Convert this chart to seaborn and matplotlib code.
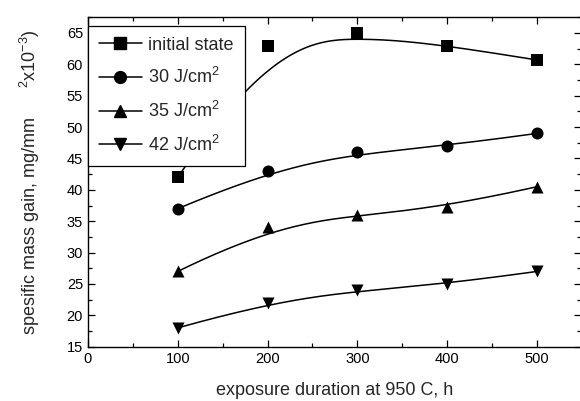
import numpy as np
import seaborn as sns
import matplotlib
matplotlib.use("Agg")
import matplotlib.pyplot as plt
from matplotlib.lines import Line2D
from matplotlib.ticker import MultipleLocator

# datos
duracion = [100, 200, 300, 400, 500]
inicial = [42, 63, 65, 63, 60.7]
j30 = [37, 43, 46, 47, 49]
j35 = [27, 34, 36, 37.3, 40.5]
j42 = [18, 22, 24, 25, 27]

etiquetas = ["initial state", "30 J/cm$^2$", "35 J/cm$^2$", "42 J/cm$^2$"]
marcadores = ["s", "o", "^", "v"]

sns.set_style("ticks")
plt.rcParams['font.family'] = ['Liberation Sans', 'DejaVu Sans']
plt.rcParams['mathtext.fontset'] = 'custom'
plt.rcParams['mathtext.rm'] = 'Liberation Sans'
plt.rcParams['mathtext.it'] = 'Liberation Sans'


# B-spline cubica "clamped" (como la linea B-Spline de Origin)
def bspline(xs, ys, n=200):
    p = np.column_stack([xs, ys]).astype(float)
    k = 3
    m = len(p)
    nodos = np.concatenate([np.zeros(k), np.linspace(0, 1, m - k + 1), np.ones(k)])
    u = np.linspace(0, 1 - 1e-9, n)

    def base(i, d, t):
        if d == 0:
            return np.where((nodos[i] <= t) & (t < nodos[i + 1]), 1.0, 0.0)
        a = 0.0
        b = 0.0
        if nodos[i + d] != nodos[i]:
            a = (t - nodos[i]) / (nodos[i + d] - nodos[i]) * base(i, d - 1, t)
        if nodos[i + d + 1] != nodos[i + 1]:
            b = (nodos[i + d + 1] - t) / (nodos[i + d + 1] - nodos[i + 1]) * base(i + 1, d - 1, t)
        return a + b

    curva = sum(base(i, k, u)[:, None] * p[i] for i in range(m))
    curva = np.vstack([curva, p[-1]])
    return curva[:, 0], curva[:, 1]


fig = plt.figure(figsize=(5.8, 4.01), dpi=100)
ax = fig.add_axes([0.1517, 0.1354, 0.85, 0.823])

handles = []
for serie, mk, lab in zip([inicial, j30, j35, j42], marcadores, etiquetas):
    cx, cy = bspline(duracion, serie)
    sns.lineplot(x=cx, y=cy, ax=ax, color="black", linewidth=1.1, sort=False)
    sns.scatterplot(x=duracion, y=serie, ax=ax, marker=mk, color="black",
                    s=75, edgecolor="black", linewidth=0, zorder=3)
    handles.append(Line2D([], [], color="black", marker=mk, markersize=8.5,
                          linewidth=1.1, label=lab))

ax.set_xlim(0, 549)
ax.set_ylim(15, 67.6)
ax.xaxis.set_major_locator(MultipleLocator(100))
ax.xaxis.set_minor_locator(MultipleLocator(50))
ax.yaxis.set_major_locator(MultipleLocator(5))
ax.yaxis.set_minor_locator(MultipleLocator(2.5))
ax.tick_params(which="both", direction="in", top=True, right=True,
               labelsize=10.5, width=0.9, colors="black")
ax.tick_params(which="major", length=5)
ax.tick_params(which="minor", length=3)
for s in ax.spines.values():
    s.set_linewidth(1.0)
    s.set_color("black")

ax.set_xlabel("exposure duration at 950 C, h", fontsize=13, labelpad=12)
ax.set_ylabel("spesific mass gain, mg/mm      $^2$x10$^{-3}$)", fontsize=13, labelpad=18)

leg = ax.legend(handles=handles, loc="upper left", bbox_to_anchor=(0, 0.972),
                borderaxespad=0, fontsize=13, frameon=True, fancybox=False,
                edgecolor="black", framealpha=1, handlelength=2.4,
                labelspacing=0.75, handletextpad=0.35, borderpad=0.6)
leg.get_frame().set_linewidth(0.9)

fig.savefig("out.png", dpi=100)
